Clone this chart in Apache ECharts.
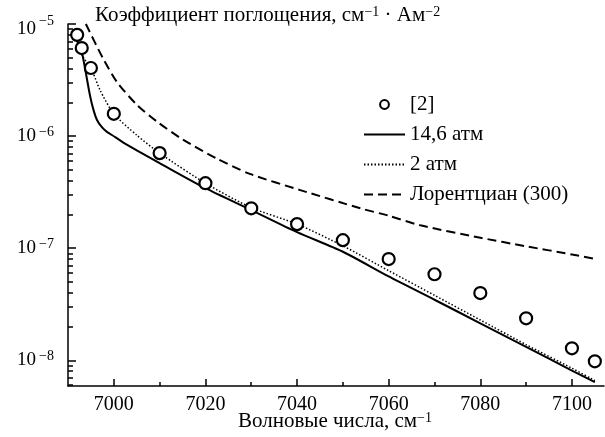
<!DOCTYPE html>
<html>
<head>
<meta charset="utf-8">
<script src="https://cdn.jsdelivr.net/npm/echarts@6/dist/echarts.min.js"></script>
<style>
html,body{margin:0;padding:0;background:#fff;}
#chart{width:605px;height:437px;}
</style>
</head>
<body>
<div id="chart"></div>
<script>
// ---- data ----
const refX = [6992, 6993, 6995, 7000, 7010, 7020, 7030, 7040, 7050, 7060, 7070, 7080, 7090, 7100, 7105];
const refY = [8.0e-6, 6.1e-6, 4.05e-6, 1.58e-6, 7.05e-7, 3.8e-7, 2.27e-7, 1.64e-7, 1.18e-7, 8.0e-8, 5.86e-8, 3.98e-8, 2.37e-8, 1.28e-8, 9.8e-9];

const solidX = [6991.5, 6992.8, 6993.7, 6994.8, 6995.5, 6996.3, 6997.4, 6998.5, 7000.3, 7002, 7005.7, 7010, 7020, 7030, 7040, 7050, 7060, 7070, 7080, 7090, 7100, 7105];
const solidY = [7.5e-6, 6.1e-6, 4.05e-6, 2.3e-6, 1.75e-6, 1.4e-6, 1.2e-6, 1.09e-6, 9.8e-7, 8.8e-7, 7.2e-7, 5.74e-7, 3.43e-7, 2.19e-7, 1.39e-7, 9.3e-8, 5.6e-8, 3.47e-8, 2.14e-8, 1.32e-8, 8.1e-9, 6.4e-9];

const dotX = [6992, 6993, 6995, 6997, 7000, 7005, 7010, 7020, 7030, 7040, 7050, 7060, 7070, 7080, 7090, 7100, 7105];
const dotY = [7.65e-6, 5.3e-6, 4.05e-6, 2.57e-6, 1.58e-6, 1.02e-6, 7.05e-7, 3.8e-7, 2.3e-7, 1.64e-7, 1.05e-7, 6.3e-8, 3.8e-8, 2.29e-8, 1.38e-8, 8.5e-9, 6.6e-9];

const lorX = [6993.9, 6997.6, 7000.7, 7005.1, 7009.4, 7015.1, 7022.5, 7029.7, 7040.7, 7053.8, 7060, 7066.9, 7080, 7090, 7100, 7104.6];
const lorY = [1.0e-5, 4.97e-6, 3.03e-6, 1.89e-6, 1.35e-6, 9.3e-7, 6.3e-7, 4.6e-7, 3.3e-7, 2.27e-7, 1.95e-7, 1.6e-7, 1.24e-7, 1.04e-7, 8.8e-8, 8.1e-8];

const xMajorTicks = [7000, 7020, 7040, 7060, 7080, 7100];
const xMinorTicks = [7010, 7030, 7050, 7070, 7090];
const yMajorTicks = [1e-8, 1e-7, 1e-6, 1e-5];
const yMinorTicks = [6e-9, 7e-9, 8e-9, 9e-9,
  2e-8, 3e-8, 4e-8, 5e-8, 6e-8, 7e-8, 8e-8, 9e-8,
  2e-7, 3e-7, 4e-7, 5e-7, 6e-7, 7e-7, 8e-7, 9e-7,
  2e-6, 3e-6, 4e-6, 5e-6, 6e-6, 7e-6, 8e-6, 9e-6];

const seriesNames = ['[2]', '14,6 атм', '2 атм', 'Лорентциан (300)'];
const titleText = 'Коэффициент поглощения, см{s|−1} · Ам{s|−2}';
const xName = 'Волновые числа, см{s|−1}';

const xMin = 6990, xMax = 7107, yMin = 5.9e-9, yMax = 1e-5;

function pairs(xs, ys) { return xs.map((x, i) => [x, ys[i]]); }

const FONT = 'Liberation Serif';

const chart = echarts.init(document.getElementById('chart'), null, {renderer: 'canvas'});

const baseX = {
  type: 'value', min: xMin, max: xMax, position: 'bottom',
  splitLine: {show: false},
};
const baseY = {
  type: 'log', logBase: 10, min: yMin, max: yMax, position: 'left',
  splitLine: {show: false}, minorTick: {show: false}, minorSplitLine: {show: false}
};

const option = {
  backgroundColor: '#fff',
  animation: false,
  textStyle: {fontFamily: FONT, color: '#000'},
  grid: {left: 68, right: 1, top: 24, bottom: 51},
  graphic: [
    {
      type: 'text', left: 95, top: 5,
      style: {
        text: titleText, fontFamily: FONT, fontSize: 21, fill: '#000',
        rich: {s: {fontSize: 14, verticalAlign: 'top', fontFamily: FONT, fill: '#000', padding: [0, 0, 7, 0]}}
      }
    },
    {
      type: 'text', left: 238, top: 411,
      style: {
        text: xName, fontFamily: FONT, fontSize: 21, fill: '#000',
        rich: {s: {fontSize: 14, verticalAlign: 'top', fontFamily: FONT, fill: '#000', padding: [0, 0, 7, 0]}}
      }
    }
  ],
  legend: {
    orient: 'vertical', left: 358, top: 89,
    itemWidth: 41, itemHeight: 11, itemGap: 9,
    data: [
      {name: seriesNames[0]},
      {name: seriesNames[1], itemStyle: {opacity: 0}},
      {name: seriesNames[2], itemStyle: {opacity: 0}},
      {name: seriesNames[3], itemStyle: {opacity: 0}}
    ],
    selectedMode: false,
    textStyle: {fontFamily: FONT, fontSize: 21, color: '#000', lineHeight: 21}
  },
  xAxis: [
    Object.assign({}, baseX, {
      axisLine: {show: true, lineStyle: {color: '#000', width: 1.5}},
      axisTick: {show: true, inside: true, length: 7, lineStyle: {color: '#000', width: 1.5}, customValues: xMajorTicks},
      axisLabel: {show: true, margin: 9, fontFamily: FONT, fontSize: 20, color: '#000', customValues: xMajorTicks,
        formatter: function (v) { return String(v); }}
    }),
    Object.assign({}, baseX, {
      axisLine: {show: false},
      axisTick: {show: true, inside: true, length: 4, lineStyle: {color: '#000', width: 1.5}, customValues: xMinorTicks},
      axisLabel: {show: false}
    })
  ],
  yAxis: [
    Object.assign({}, baseY, {
      axisLine: {show: true, lineStyle: {color: '#000', width: 1.5}},
      axisTick: {show: true, inside: true, length: 8, lineStyle: {color: '#000', width: 1.5}, customValues: yMajorTicks},
      axisLabel: {
        show: true, margin: 14, customValues: yMajorTicks,
        formatter: function (v) {
          const e = Math.round(Math.log10(v));
          if (e === -5) return '{t|10}{u|−' + (-e) + '}';
          return '{a|10}{b|−' + (-e) + '}';
        },
        rich: {
          a: {fontFamily: FONT, fontSize: 19, color: '#000'},
          b: {fontFamily: FONT, fontSize: 14, color: '#000', verticalAlign: 'top', padding: [0, 0, 8, 3]},
          t: {fontFamily: FONT, fontSize: 19, color: '#000', padding: [10, 0, 0, 0]},
          u: {fontFamily: FONT, fontSize: 14, color: '#000', verticalAlign: 'top', padding: [5, 0, 0, 3]}
        }
      }
    }),
    Object.assign({}, baseY, {
      axisLine: {show: false},
      axisTick: {show: true, inside: true, length: 5, lineStyle: {color: '#000', width: 1.5}, customValues: yMinorTicks},
      axisLabel: {show: false}
    })
  ],
  series: [
    {
      name: seriesNames[0], type: 'line', data: pairs(refX, refY),
      symbol: 'circle', symbolSize: 12, showSymbol: true,
      lineStyle: {width: 0, opacity: 0},
      itemStyle: {color: '#fff', borderColor: '#000', borderWidth: 2.2},
      z: 5
    },
    {
      name: seriesNames[1], type: 'line', data: pairs(solidX, solidY),
      symbol: 'none', smooth: 0.25,
      lineStyle: {color: '#000', width: 2, type: 'solid'},
      itemStyle: {color: '#000'}
    },
    {
      name: seriesNames[2], type: 'line', data: pairs(dotX, dotY),
      symbol: 'none', smooth: 0.25,
      lineStyle: {color: '#000', width: 1.5, type: [1.5, 2]},
      itemStyle: {color: '#000'}
    },
    {
      name: seriesNames[3], type: 'line', data: pairs(lorX, lorY),
      symbol: 'none', smooth: 0.25,
      lineStyle: {color: '#000', width: 2, type: [9, 5]},
      itemStyle: {color: '#000'}
    }
  ]
};
chart.setOption(option);
</script>
</body>
</html>
